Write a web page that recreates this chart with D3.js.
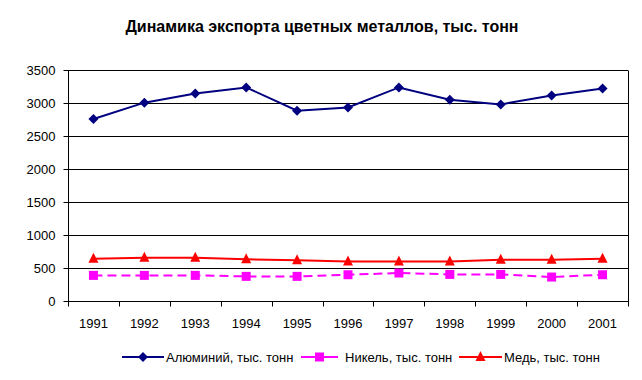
<!DOCTYPE html>
<html>
<head>
<meta charset="utf-8">
<script src="https://cdn.jsdelivr.net/npm/d3@7"></script>
<style>
  body { margin: 0; background: #fff; }
  svg { display: block; font-family: "Liberation Sans", Arial, sans-serif; }
</style>
</head>
<body>
<svg id="chart" width="642" height="380"></svg>
<script>
const years = ["1991", "1992", "1993", "1994", "1995", "1996", "1997", "1998", "1999", "2000", "2001"];
const aluminium = [2758, 3005, 3145, 3236, 2883, 2933, 3236, 3050, 2979, 3115, 3221];
const nickel = [388, 388, 388, 373, 373, 398, 424, 403, 403, 363, 398];
const copper = [641, 656, 656, 631, 616, 600, 600, 600, 626, 626, 641];
const yTicks = [0, 500, 1000, 1500, 2000, 2500, 3000, 3500];
const seriesNames = ["Алюминий, тыс. тонн", "Никель, тыс. тонн", "Медь, тыс. тонн"];

const svg = d3.select("#chart");
const plot = { left: 68, right: 628, top: 70, bottom: 301 };

const x = d3.scaleBand().domain(years).range([plot.left, plot.right]);
const y = d3.scaleLinear().domain([0, 3500]).range([plot.bottom, plot.top]);

svg.append("text")
  .attr("x", 322)
  .attr("y", 32)
  .attr("text-anchor", "middle")
  .attr("font-size", 16)
  .attr("font-weight", "bold")
  .text("Динамика экспорта цветных металлов, тыс. тонн");

// gridlines
svg.append("g")
  .selectAll("line")
  .data(yTicks.filter((d) => d > 0))
  .join("line")
  .attr("x1", plot.left)
  .attr("x2", plot.right)
  .attr("y1", (d) => Math.round(y(d)) + 0.5)
  .attr("y2", (d) => Math.round(y(d)) + 0.5)
  .attr("stroke", "#000");

// right border
svg.append("line")
  .attr("x1", plot.right + 0.5).attr("x2", plot.right + 0.5)
  .attr("y1", plot.top + 0.5).attr("y2", plot.bottom + 0.5)
  .attr("stroke", "#000");

// y axis
const yAxis = svg.append("g")
  .attr("transform", `translate(${plot.left + 0.5},0.5)`)
  .call(d3.axisLeft(y).tickValues(yTicks).tickSize(5).tickPadding(8).tickFormat(d3.format("d")));
yAxis.selectAll("line").attr("stroke", "#000");
yAxis.select(".domain").attr("stroke", "#000").attr("d", `M0,${Math.round(plot.top)}V${plot.bottom}`);
yAxis.selectAll("text").attr("font-size", 13).attr("fill", "#000")
  .attr("font-family", "Liberation Sans, Arial, sans-serif");
yAxis.selectAll(".tick").attr("transform", (d) => `translate(0,${Math.round(y(d))})`);

// x axis with ticks at category boundaries
const xg = svg.append("g").attr("transform", `translate(0,${plot.bottom + 0.5})`);
xg.append("line")
  .attr("x1", plot.left).attr("x2", plot.right + 1)
  .attr("stroke", "#000");
xg.selectAll("line.tk")
  .data(d3.range(years.length + 1))
  .join("line")
  .attr("class", "tk")
  .attr("x1", (i) => Math.round(plot.left + i * x.step()) + 0.5)
  .attr("x2", (i) => Math.round(plot.left + i * x.step()) + 0.5)
  .attr("y1", 0)
  .attr("y2", 5)
  .attr("stroke", "#000");
xg.selectAll("text")
  .data(years)
  .join("text")
  .attr("x", (d) => x(d) + x.bandwidth() / 2)
  .attr("y", 26)
  .attr("text-anchor", "middle")
  .attr("font-size", 13)
  .text((d) => d);

const cx = (i) => x(years[i]) + x.bandwidth() / 2;
const line = d3.line().x((d, i) => cx(i)).y((d) => y(d));

const series = [
  { name: seriesNames[0], values: aluminium, color: "#000080", dash: null, marker: "diamond" },
  { name: seriesNames[1], values: nickel, color: "#ff00ff", dash: "9,5", marker: "square" },
  { name: seriesNames[2], values: copper, color: "#ff0000", dash: null, marker: "triangle" },
];

const markerPath = (type) => {
  if (type === "diamond") return "M0,-5L5,0L0,5L-5,0Z";
  if (type === "square") return "M-4.5,-4.5H4.5V4.5H-4.5Z";
  return "M0,-6L5,4H-5Z";
};

series.forEach((s) => {
  svg.append("path")
    .datum(s.values)
    .attr("d", line)
    .attr("fill", "none")
    .attr("stroke", s.color)
    .attr("stroke-width", 2)
    .attr("stroke-dasharray", s.dash);
  svg.append("g")
    .selectAll("path")
    .data(s.values)
    .join("path")
    .attr("transform", (d, i) => `translate(${cx(i)},${y(d)})`)
    .attr("d", markerPath(s.marker))
    .attr("fill", s.color);
});

// legend
const legendItems = [
  { x1: 122, x2: 164, tx: 166 },
  { x1: 301, x2: 338, tx: 345 },
  { x1: 459, x2: 502, tx: 504 },
];
const legendY = 357;
series.forEach((s, i) => {
  const it = legendItems[i];
  const g = svg.append("g");
  g.append("line")
    .attr("x1", it.x1).attr("x2", it.x2)
    .attr("y1", legendY).attr("y2", legendY)
    .attr("stroke", s.color).attr("stroke-width", 2);
  g.append("path")
    .attr("transform", `translate(${(it.x1 + it.x2) / 2},${legendY})`)
    .attr("d", markerPath(s.marker))
    .attr("fill", s.color);
  g.append("text")
    .attr("x", it.tx)
    .attr("y", legendY + 4.5)
    .attr("font-size", 13)
    .text(s.name);
});
</script>
</body>
</html>
